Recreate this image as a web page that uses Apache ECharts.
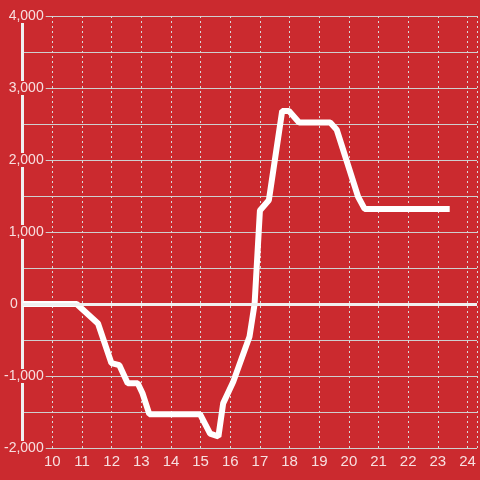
<!DOCTYPE html>
<html>
<head>
<meta charset="utf-8">
<script src="https://cdn.jsdelivr.net/npm/echarts@6/dist/echarts.min.js"></script>
<style>
  html, body { margin: 0; padding: 0; background: #cb2a2f; }
  #chart { width: 480px; height: 480px; }
</style>
</head>
<body>
<div id="chart"></div>
<script>
// x positions (hours) and values of the line
var xValues = [9, 10.82, 11.54, 11.99, 12.26, 12.54, 12.88, 13.04, 13.27, 14.98, 15.32, 15.6, 15.76, 16.1, 16.65, 16.82, 17.0, 17.3, 17.75, 17.98, 18.32, 19.37, 19.59, 20.31, 20.53, 23.4];
var yValues = [0, 0, -270, -820, -850, -1100, -1100, -1240, -1530, -1530, -1800, -1840, -1380, -1080, -450, 0, 1300, 1440, 2680, 2680, 2520, 2520, 2420, 1490, 1320, 1320];
var xTicks = [10, 11, 12, 13, 14, 15, 16, 17, 18, 19, 20, 21, 22, 23, 24];
var yTicks = [-2000, -1000, 0, 1000, 2000, 3000, 4000];

var bg = "#cb2a2f";
var textColor = "rgba(255,255,255,0.85)";

var points = xValues.map(function (x, i) {
  return [x, yValues[i]];
});

var myChart = echarts.init(document.getElementById("chart"));

var option = {
  backgroundColor: bg,
  animation: false,
  grid: {
    left: 20,
    right: 0,
    top: 16,
    bottom: 32,
  },
  xAxis: {
    type: "value",
    min: 9,
    max: 24.32,
    interval: 1,
    axisLine: { show: false },
    axisTick: { show: false },
    axisLabel: {
      margin: 6,
      color: textColor,
      fontSize: 15,
      fontFamily: "Liberation Sans",
      formatter: function (v) {
        return xTicks.indexOf(v) >= 0 ? String(v) : "";
      },
    },
    splitLine: {
      show: true,
      lineStyle: { color: "#d8d8d8", width: 1, type: [2, 3] },
    },
  },
  yAxis: {
    type: "value",
    min: -2000,
    max: 4000,
    interval: 1000,
    axisLine: {
      show: true,
      lineStyle: { color: "#f0f0f0", width: 3 },
    },
    axisTick: { show: false },
    axisLabel: {
      margin: -23,
      align: "right",
      formatter: function (v) {
        if (yTicks.indexOf(v) < 0) return "";
        if (v === 0) return "{z|0}";
        return "{b|" + v.toLocaleString("en-US") + "}";
      },
      rich: {
        b: {
          color: textColor,
          fontSize: 14,
          fontFamily: "Liberation Sans",
          backgroundColor: bg,
          padding: [0, 2, 0, 1],
          lineHeight: 15,
        },
        z: {
          color: textColor,
          fontSize: 14,
          fontFamily: "Liberation Sans",
          padding: [0, 28, 0, 0],
          lineHeight: 15,
        },
      },
    },
    splitLine: {
      show: true,
      lineStyle: { color: "#cfcfcf", width: 1 },
    },
    minorTick: { show: false, splitNumber: 2 },
    minorSplitLine: {
      show: true,
      lineStyle: { color: "#cfcfcf", width: 1 },
    },
  },
  series: [
    {
      type: "line",
      data: points,
      showSymbol: false,
      lineStyle: { color: "#ffffff", width: 6, cap: "butt" },
      itemStyle: { color: "#ffffff" },
      markLine: {
        silent: true,
        symbol: "none",
        label: { show: false },
        lineStyle: { color: "#f0f0f0", width: 3, type: "solid" },
        data: [{ yAxis: 0 }],
      },
      z: 3,
    },
  ],
};

myChart.setOption(option);
</script>
</body>
</html>
